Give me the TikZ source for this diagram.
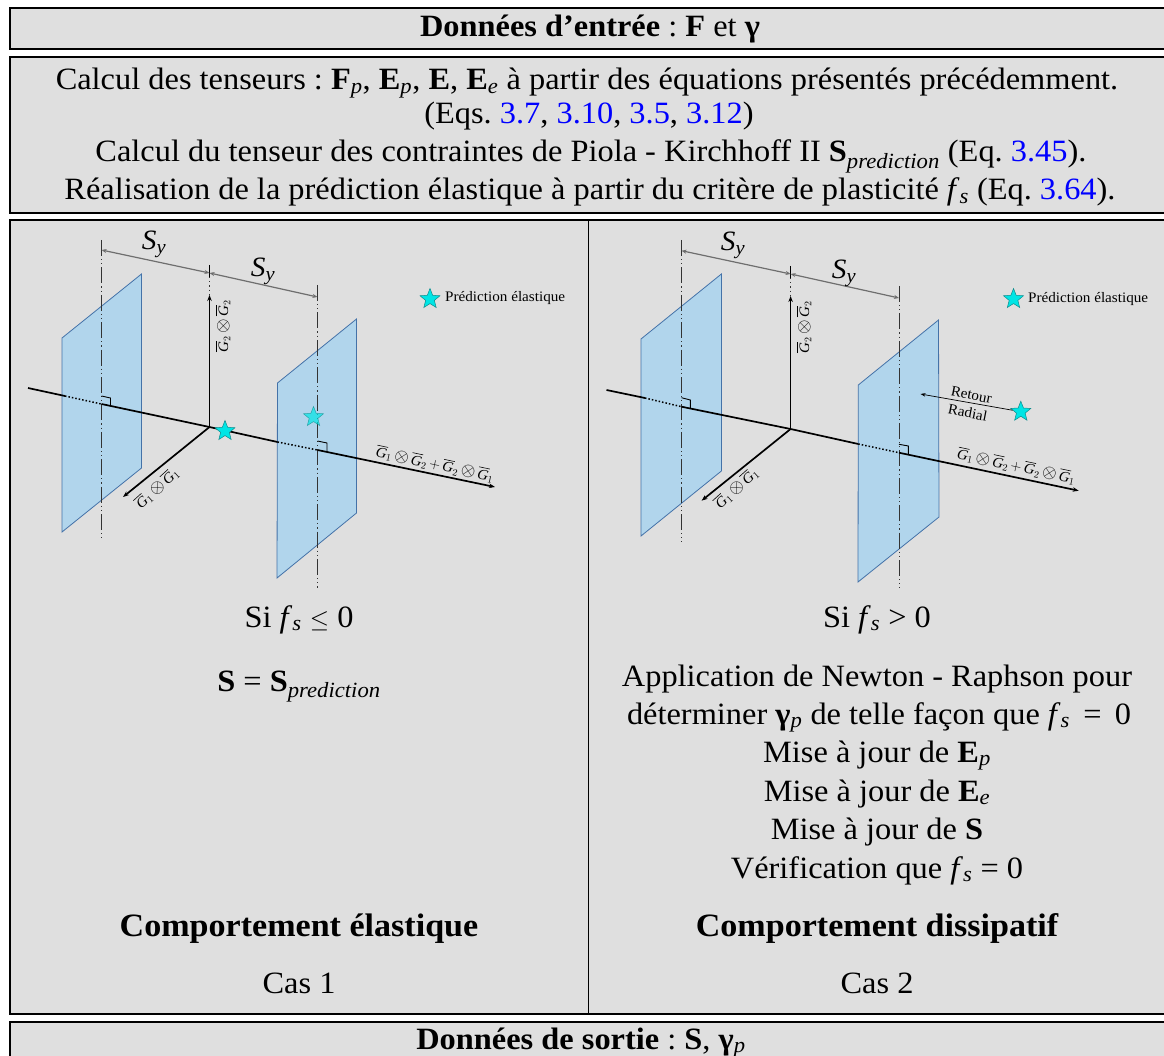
\documentclass[tikz,border=0pt]{standalone}
\usepackage{amsmath,amssymb}
\usepackage{fontspec}
\setmainfont[FakeStretch=1.045]{Liberation Serif}
\usetikzlibrary{arrows.meta, shapes.geometric, calc}
\definecolor{cPanel}{HTML}{DFDFDF}
\definecolor{cPlane}{HTML}{B1D5EC}
\definecolor{cPlaneEdge}{HTML}{4472A8}
\definecolor{cDim}{HTML}{6E6E6E}
\definecolor{cStar}{HTML}{00E5E5}
\definecolor{cStarEdge}{HTML}{0E8C8C}
\newcommand{\subi}[1]{$_{\textit{#1}}$}
\newcommand{\refeq}[1]{\textcolor{blue}{#1}}
\newcommand{\Gbar}[1]{$\overline{\textit{G}}_{#1}$}
\newcommand{\otim}{\,\scalebox{1.3}{$\otimes$}\,}
\frenchspacing
\tikzset{
  framebox/.style={
    draw=black, fill=cPanel, line width=1.7pt
  },
  divider/.style={
    draw=black, line width=0.9pt
  },
  bodytext/.style={
    font=\fontsize{31}{33}\selectfont, inner sep=0pt, anchor=base
  },
  headtext/.style={
    font=\fontsize{32.6}{34}\selectfont\bfseries, inner sep=0pt, anchor=base
  },
  plane/.style={
    draw=cPlaneEdge, fill=cPlane, line width=0.8pt
  },
  axisline/.style={
    line width=1.7pt, color=black
  },
  axisarrow/.style={
    -{Stealth[length=6pt, width=4.5pt]}, line width=1.7pt, color=black
  },
  axisdots/.style={
    line width=1.5pt, color=black, dotted
  },
  axisfaint/.style={
    line width=1pt, color=black!80,
    dash pattern=on 16pt off 3pt on 1.2pt off 3pt on 1.2pt off 3pt
  },
  dimline/.style={
    {Stealth[length=5pt, width=4pt]}-{Stealth[length=5pt, width=4pt]},
    line width=1.2pt, color=cDim
  },
  rightangle/.style={
    line width=0.9pt, color=black
  },
  starmark/.style={
    star, star points=5, star point ratio=2.3, minimum size=21pt, inner sep=0pt,
    draw=cStarEdge, fill=cStar, line width=0.5pt
  },
  axislabel/.style={
    font=\fontsize{14.5}{16}\selectfont, inner sep=0pt
  },
  dimlabel/.style={
    font=\fontsize{28}{30}\selectfont, inner sep=0pt
  },
  smalltext/.style={
    font=\fontsize{14.5}{16}\selectfont, inner sep=0pt
  },
}
\begin{document}
\begin{tikzpicture}[x=1pt, y=-1pt]
\useasboundingbox (0,0) rectangle (1164,1056);

% ---- Frames ----
\draw[framebox] (10,8) rectangle (1170,49);
\draw[framebox] (10,57) rectangle (1170,213);
\draw[framebox] (10,220) rectangle (1170,1014);
\draw[framebox] (10,1022) rectangle (1170,1070);
\draw[divider] (588,220) -- (588,1014);

% ---- Input ----
\node[bodytext] (input) at (590,37) {\textbf{Données d'entrée} : \textbf{F} et \textbf{γ}};
\node[bodytext] (calcA) at (587,90) {Calcul des tenseurs : \textbf{F}\subi{p}, \textbf{E}\subi{p}, \textbf{E}, \textbf{E}\subi{e} à partir des équations présentés précédemment.};
\node[bodytext] (calcB) at (589,124) {(Eqs. \refeq{3.7}, \refeq{3.10}, \refeq{3.5}, \refeq{3.12})};
\node[bodytext] (calcC) at (591,162) {Calcul du tenseur des contraintes de Piola - Kirchhoff II \textbf{S}\subi{prediction} (Eq. \refeq{3.45}).};
\node[bodytext] (calcD) at (590,200) {Réalisation de la prédiction élastique à partir du critère de plasticité \textit{f}\subi{s} (Eq. \refeq{3.64}).};

% ---- Case 1 planes ----
\draw[plane] (62,338) -- (141.5,274) -- (141.5,468) -- (62,532) -- cycle;
\draw[plane] (277.5,383) -- (356.5,319) -- (356.5,513) -- (277,578) -- cycle;

% ---- Case 1 axes ----
\coordinate (oA) at (209.5,427);
\coordinate (xAstart) at (28,388);
\coordinate (xAend) at (495,487);
\coordinate (xAinL) at (65,396);
\coordinate (xAmidL) at (101.5,404);
\coordinate (xAinR) at (277.5,442);
\coordinate (xAmidR) at (317.5,450);
\coordinate (zAend) at (209.5,295);
\coordinate (yAend) at (123,497);
\coordinate (gLtopA) at (101.5,240);
\coordinate (gLbotA) at (101.5,541);
\coordinate (gRtopA) at (317.5,285);
\coordinate (gRbotA) at (317.5,588);
\coordinate (gMtopA) at (209.5,265);
\coordinate (gMmidA) at (209.5,277);
\coordinate (dimLA) at (101.5,250);
\coordinate (dimMA) at (209.5,273);
\coordinate (dimRA) at (317.5,297);

\draw[axisfaint] (gLtopA) -- (gLbotA);
\draw[axisfaint] (gRtopA) -- (gRbotA);
\draw[axisline] (gMtopA) -- (gMmidA);
\draw[axisfaint, dash pattern=on 1.2pt off 3pt on 1.2pt off 3pt] (gMmidA) -- (zAend);
\draw[axisline] (xAstart) -- (xAinL);
\draw[axisdots] (xAinL) -- (xAmidL);
\draw[axisline] (xAmidL) -- (oA) -- (xAinR);
\draw[axisdots] (xAinR) -- (xAmidR);
\draw[axisarrow] (xAmidR) -- (xAend);
\draw[axisarrow] (oA) -- (zAend);
\draw[axisarrow] (oA) -- (yAend);
\draw[rightangle] (101.5,396) -- (110.5,398) -- (110.5,406);
\draw[rightangle] (317.5,441) -- (327,443) -- (327,452);
\draw[dimline] (dimLA) -- (dimMA);
\draw[dimline] (dimMA) -- (dimRA);

\node[dimlabel] (syA) at (154,244) {\textit{S}\subi{y}};
\node[dimlabel] (syB) at (263,271) {\textit{S}\subi{y}};
\node[axislabel, rotate=90] (lzA) at (223,326) {\Gbar{2}\otim\Gbar{2}};
\node[axislabel, rotate=-12] (lxA) at (435,464) {\Gbar{1}\otim\Gbar{2}$\,+\,$\Gbar{2}\otim\Gbar{1}};
\node[axislabel, rotate=42] (lyA) at (157,488) {\Gbar{1}\otim\Gbar{1}};

\node[starmark] (starA) at (225,431) {};
\node[starmark, opacity=0.7] (starB) at (313.5,417) {};
\node[starmark] (starKeyA) at (430,299) {};
\node[smalltext, anchor=west] (keyA) at (445,298) {Prédiction élastique};

% ---- Case 1 text ----
\node[bodytext] (siA) at (299,627) {Si \textit{f}\subi{s} $\leq$ 0};
\node[bodytext] (resA) at (299,691) {\textbf{S} = \textbf{S}\subi{prediction}};
\node[headtext] (compA) at (299,936) {Comportement élastique};
\node[bodytext] (casA) at (299,993) {Cas 1};

% ---- Case 2 planes ----
\draw[plane] (641,339) -- (721.4,274) -- (721.4,471) -- (641,536) -- cycle;
\draw[plane] (858.3,385) -- (938.5,320) -- (939,517) -- (858,582) -- cycle;

% ---- Case 2 axes ----
\coordinate (oB) at (790.6,429);
\coordinate (xBstart) at (606.5,390);
\coordinate (xBend) at (1078.7,490.7);
\coordinate (xBinL) at (645,398);
\coordinate (xBmidL) at (681.5,406.7);
\coordinate (xBinR) at (858.3,444);
\coordinate (xBmidR) at (899,452.7);
\coordinate (zBend) at (790.6,296);
\coordinate (yBend) at (701.6,500.7);
\coordinate (gLtopB) at (681.5,240);
\coordinate (gLbotB) at (681.5,542);
\coordinate (gRtopB) at (899,286);
\coordinate (gRbotB) at (899,588);
\coordinate (gMtopB) at (790.6,266);
\coordinate (gMmidB) at (790.6,278);
\coordinate (dimLB) at (681.5,250.7);
\coordinate (dimMB) at (790.6,274);
\coordinate (dimRB) at (899,298);

\draw[axisfaint] (gLtopB) -- (gLbotB);
\draw[axisfaint] (gRtopB) -- (gRbotB);
\draw[axisline] (gMtopB) -- (gMmidB);
\draw[axisfaint, dash pattern=on 1.2pt off 3pt on 1.2pt off 3pt] (gMmidB) -- (zBend);
\draw[axisline] (xBstart) -- (xBinL);
\draw[axisdots] (xBinL) -- (xBmidL);
\draw[axisline] (xBmidL) -- (oB) -- (xBinR);
\draw[axisdots] (xBinR) -- (xBmidR);
\draw[axisarrow] (xBmidR) -- (xBend);
\draw[axisarrow] (oB) -- (zBend);
\draw[axisarrow] (oB) -- (yBend);
\draw[rightangle] (681.5,397.7) -- (690.3,400) -- (690.3,408);
\draw[rightangle] (899,444.3) -- (908.4,446) -- (908.4,454);
\draw[dimline] (dimLB) -- (dimMB);
\draw[dimline] (dimMB) -- (dimRB);

\node[dimlabel] (syC) at (733,245) {\textit{S}\subi{y}};
\node[dimlabel] (syD) at (844,273) {\textit{S}\subi{y}};
\node[axislabel, rotate=90] (lzB) at (804,327) {\Gbar{2}\otim\Gbar{2}};
\node[axislabel, rotate=-12] (lxB) at (1016.4,466) {\Gbar{1}\otim\Gbar{2}$\,+\,$\Gbar{2}\otim\Gbar{1}};
\node[axislabel, rotate=42] (lyB) at (736.4,488) {\Gbar{1}\otim\Gbar{1}};

\node[starmark] (starC) at (1020.8,411.7) {};
\node[starmark] (starKeyB) at (1013.5,299) {};
\node[smalltext, anchor=west] (keyB) at (1028,299) {Prédiction élastique};
\draw[-{Stealth[length=5pt, width=3.5pt]}, line width=0.7pt] (starC) -- (920.5,394);
\node[smalltext, rotate=-11] (retour) at (971.4,395) {Retour};
\node[smalltext, rotate=-11] (radial) at (967.7,412.5) {Radial};

% ---- Case 2 text ----
\node[bodytext] (siB) at (877,627) {Si \textit{f}\subi{s} > 0};
\node[bodytext] (lineA) at (877,686) {Application de Newton - Raphson pour};
\node[bodytext] (lineB) at (879,724) {déterminer \textbf{γ}\subi{p} de telle façon que \textit{f}\subi{s}\, = \,0};
\node[bodytext] (lineC) at (877,762) {Mise à jour de \textbf{E}\subi{p}};
\node[bodytext] (lineD) at (877,801) {Mise à jour de \textbf{E}\subi{e}};
\node[bodytext] (lineE) at (877,839) {Mise à jour de \textbf{S}};
\node[bodytext] (lineF) at (877,878) {Vérification que \textit{f}\subi{s} = 0};
\node[headtext] (compB) at (877,936) {Comportement dissipatif};
\node[bodytext] (casB) at (877,993) {Cas 2};

% ---- Output ----
\node[bodytext] (output) at (581,1049) {\textbf{Données de sortie} : \textbf{S}, \textbf{γ}\subi{p}};

\end{tikzpicture}
\end{document}
